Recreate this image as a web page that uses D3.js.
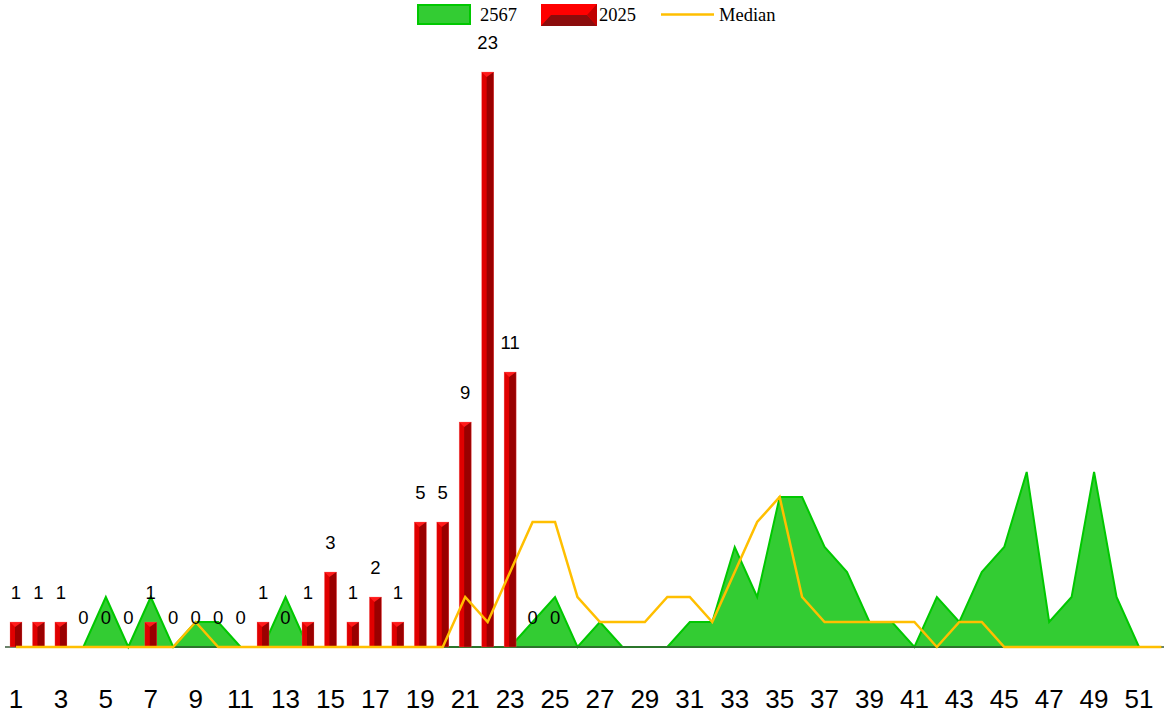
<!DOCTYPE html>
<html>
<head>
<meta charset="utf-8">
<script src="https://cdn.jsdelivr.net/npm/d3@7"></script>
<style>
html,body{margin:0;padding:0;background:#fff;}
svg{display:block;}
</style>
</head>
<body>
<svg id="chart" width="1166" height="714"></svg>
<script>
// ---- data ----
const weeks = d3.range(1, 53);
const tickLabels = d3.range(1, 52, 2);
const series2025 = [1,1,1,0,0,0,1,0,0,0,0,1,0,1,3,1,2,1,5,5,9,23,11,0,0];
const series2567 = [0,0,0,0,2,0,2,0,1,1,0,0,2,0,0,0,0,0,0,0,0,0,0,1,2,0,1,0,0,0,1,1,4,2,6,6,4,3,1,1,0,2,1,3,4,7,1,2,7,2,0,0];
const seriesMedian = [0,0,0,0,0,0,0,0,1,0,0,0,0,0,0,0,0,0,0,0,2,1,3,5,5,2,1,1,1,2,2,1,3,5,6,2,1,1,1,1,1,0,1,1,0,0,0,0,0,0,0,0];
const legendNames = ["2567", "2025", "Median"];

// ---- layout ----
const svg = d3.select("#chart");
const x = d3.scaleBand().domain(weeks).range([4.77, 4.77 + 52 * 22.46]);
const cx = d => x(d) + x.bandwidth() / 2;
const y = d3.scaleLinear().domain([0, 23]).range([647, 72]);

// area 2567
const area = d3.area().x((d, i) => cx(weeks[i])).y0(y(0)).y1(d => y(d));
svg.append("path").datum(series2567).attr("d", area)
  .attr("fill", "#33cc33").attr("stroke", "#00c800").attr("stroke-width", 2).attr("stroke-linejoin", "miter");

// axis line
svg.append("line").attr("x1", 5).attr("x2", 1164).attr("y1", y(0)).attr("y2", y(0))
  .attr("stroke", "#3a5a3a").attr("stroke-width", 1.5);

// bars 2025
const bw = 12;
const barG = svg.append("g");
series2025.forEach((v, i) => {
  const wk = weeks[i];
  if (v <= 0) return;
  const x0 = cx(wk) - bw / 2, x1 = x0 + bw, top = y(v), bot = y(0);
  barG.append("rect").attr("x", x0).attr("y", top).attr("width", bw).attr("height", bot - top)
    .attr("fill", "#e00000");
  barG.append("rect").attr("x", x0 + 5).attr("y", top).attr("width", bw - 5).attr("height", bot - top)
    .attr("fill", "#9a0000");
  barG.append("polygon").attr("points", `${x0},${top} ${x1},${top} ${x0 + 5},${top + 5}`)
    .attr("fill", "#ff1a1a");
  barG.append("rect").attr("x", x0).attr("y", top).attr("width", bw).attr("height", bot - top)
    .attr("fill", "none").attr("stroke", "rgba(255,120,120,0.45)").attr("stroke-width", 0.6);
});

// median line
const line = d3.line().x((d, i) => cx(weeks[i])).y(d => y(d));
svg.append("path").datum(seriesMedian).attr("d", line)
  .attr("fill", "none").attr("stroke", "#ffbf00").attr("stroke-width", 2.5);

// data labels
svg.append("g").selectAll("text").data(series2025).join("text")
  .attr("x", (d, i) => cx(weeks[i]))
  .attr("y", d => y(d) - 23)
  .attr("text-anchor", "middle")
  .attr("font-family", "Liberation Sans, Arial, sans-serif")
  .attr("font-size", 18.5)
  .attr("fill", "#000")
  .text(d => d);

// x tick labels
svg.append("g").selectAll("text").data(tickLabels).join("text")
  .attr("x", d => cx(d))
  .attr("y", 708)
  .attr("text-anchor", "middle")
  .attr("font-family", "Liberation Sans, Arial, sans-serif")
  .attr("font-size", 26)
  .attr("fill", "#000")
  .text(d => d);

// legend
const lg = svg.append("g").attr("font-family", "Liberation Serif, Times New Roman, serif").attr("font-size", 18.5);
lg.append("rect").attr("x", 418).attr("y", 5).attr("width", 52).attr("height", 19)
  .attr("fill", "#33cc33").attr("stroke", "#00c800").attr("stroke-width", 2);
lg.append("text").attr("x", 480).attr("y", 21).text(legendNames[0]);
lg.append("rect").attr("x", 541).attr("y", 4).attr("width", 56).attr("height", 22).attr("fill", "#ff0000");
lg.append("polygon").attr("points", "551,15 587,15 597,26 541,26").attr("fill", "#8b0c0c");
lg.append("polygon").attr("points", "587,15 597,4 597,26").attr("fill", "#c00000");
lg.append("text").attr("x", 599).attr("y", 21).text(legendNames[1]);
lg.append("line").attr("x1", 661).attr("x2", 714).attr("y1", 14.5).attr("y2", 14.5)
  .attr("stroke", "#ffbf00").attr("stroke-width", 2.5);
lg.append("text").attr("x", 719).attr("y", 21).text(legendNames[2]);
</script>
</body>
</html>
